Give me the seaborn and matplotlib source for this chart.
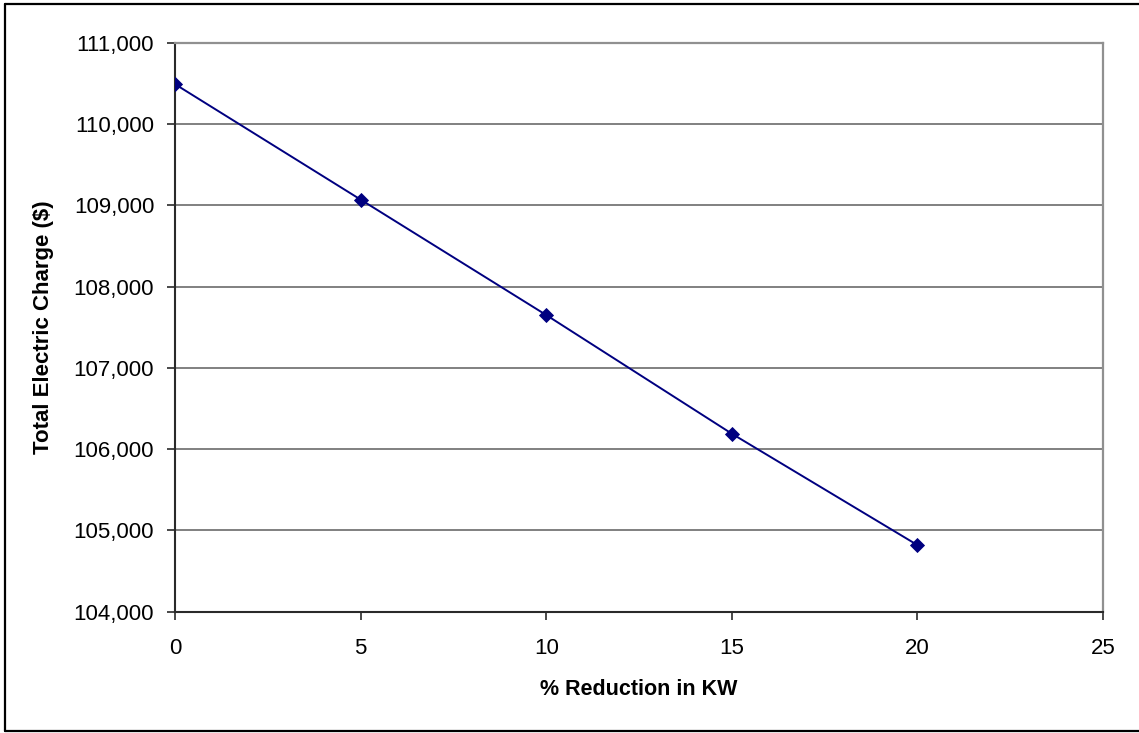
import matplotlib
matplotlib.use("Agg")
import matplotlib.pyplot as plt
import matplotlib.ticker as mticker
from matplotlib.lines import Line2D
import pandas as pd
import seaborn as sns

# Total electric charge versus percentage reduction in demand (KW)
reduction_pct = [0, 5, 10, 15, 20]
total_charge = [110490, 109070, 107650, 106190, 104820]

x_ticks = [0, 5, 10, 15, 20, 25]
y_ticks = [104000, 105000, 106000, 107000, 108000, 109000, 110000, 111000]

df = pd.DataFrame({"reduction": reduction_pct, "charge": total_charge})

sns.set_style("white")
plt.rcParams["font.family"] = ["Liberation Sans", "DejaVu Sans"]
plt.rcParams["text.color"] = "black"
plt.rcParams["axes.labelcolor"] = "black"

W, H = 1139, 733
fig = plt.figure(figsize=(W / 100, H / 100), dpi=100)
ax = fig.add_axes([175 / W, 1 - 611.7 / H, (1103 - 175) / W, (611.7 - 42.7) / H])

navy = "#000080"
sns.lineplot(data=df, x="reduction", y="charge", ax=ax, color=navy,
             linewidth=1.4, marker="D", markersize=7, markeredgecolor=navy,
             markerfacecolor=navy, markeredgewidth=0.6, zorder=5)

ax.set_xlim(0, 25)
ax.set_ylim(104000, 111000)
ax.set_xticks(x_ticks)
ax.set_yticks(y_ticks)
ax.yaxis.set_major_formatter(mticker.FuncFormatter(lambda v, p: f"{v:,.0f}"))

ax.grid(axis="y", color="#808080", linewidth=1.4)
ax.grid(axis="x", visible=False)
ax.set_axisbelow(True)

for side in ("left", "bottom"):
    ax.spines[side].set_color("#2a2a2a")
    ax.spines[side].set_linewidth(1.5)
for side in ("right", "top"):
    ax.spines[side].set_color("#909090")
    ax.spines[side].set_linewidth(1.6)
    ax.spines[side].set_visible(True)

ax.tick_params(axis="both", which="major", direction="out", length=6,
               width=1.2, color="#2a2a2a", labelsize=16, labelcolor="black",
               left=True, bottom=True)
ax.tick_params(axis="y", pad=9)
ax.tick_params(axis="x", pad=13)

ax.set_xlabel("% Reduction in KW", fontsize=15.5, fontweight="bold",
              labelpad=14, color="black")
ax.set_ylabel("Total Electric Charge ($)", fontsize=16, fontweight="bold",
              labelpad=14, color="black")

# chart border (left, top, bottom edges)
left_x = 5 / W
top_y = 1 - 4 / H
bottom_y = 1 - 731 / H
for xs, ys in [((left_x, left_x), (bottom_y, top_y)),
               ((left_x, 1.0), (top_y, top_y)),
               ((left_x, 1.0), (bottom_y, bottom_y))]:
    fig.add_artist(Line2D(xs, ys, transform=fig.transFigure,
                          color="black", linewidth=1.6))

fig.savefig("out.png", dpi=100)
